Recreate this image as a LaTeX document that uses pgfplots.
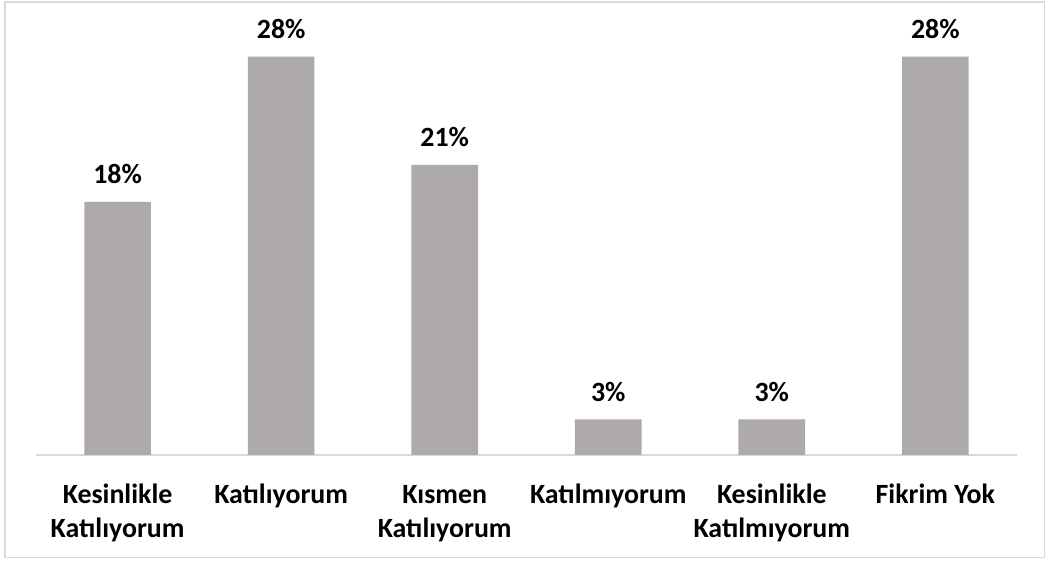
\documentclass[border=0pt]{standalone}
\usepackage{fontspec}
\setmainfont{Carlito}
\usepackage{pgfplots}
\pgfplotsset{compat=1.18}

\definecolor{barfill}{HTML}{AEAAAA}
\definecolor{lightline}{HTML}{D9D9D9}

\begin{document}
\begin{tikzpicture}[font=\bfseries\fontsize{21}{25.5}\selectfont]
\begin{axis}[
    name=ax,
    anchor=south west,
    at={(0,0)},
    x=123.25pt, y=10.714pt,
    xmin=-0.5, xmax=5.5,
    ymin=0, ymax=30,
    axis x line*=bottom,
    axis y line=none,
    x axis line style={draw=lightline, line width=1.2pt, -},
    xtick={0,1,2,3,4,5},
    major tick length=0pt,
    xticklabels={{\strut Kesinlikle\\Katılıyorum}, {\strut Katılıyorum}, {\strut Kısmen\\Katılıyorum},
        {\strut Katılmıyorum}, {\strut Kesinlikle\\Katılmıyorum}, {\strut Fikrim Yok}},
    xticklabel style={align=center, anchor=north, inner sep=0pt,
        font=\bfseries\fontsize{21}{25.5}\selectfont, yshift=-19pt},
    ytick=\empty,
    ybar,
    bar width=50.25pt,
    point meta=explicit symbolic,
    nodes near coords,
    every node near coord/.append style={font=\bfseries\fontsize{21}{25}\selectfont, yshift=10pt},
    clip=false,
]
\addplot[fill=barfill, draw=none] coordinates {
    (0,17.8) [18\%]
    (1,28.0) [28\%]
    (2,20.4) [21\%]
    (3,2.5) [3\%]
    (4,2.5) [3\%]
    (5,28.0) [28\%]
};
\end{axis}
\draw[lightline, line width=1pt] (-23.25pt,-77.25pt) rectangle (760pt,341.25pt);
\path[use as bounding box] (-27pt,-79.5pt) rectangle (756.75pt,342.75pt);
\end{tikzpicture}
\end{document}
